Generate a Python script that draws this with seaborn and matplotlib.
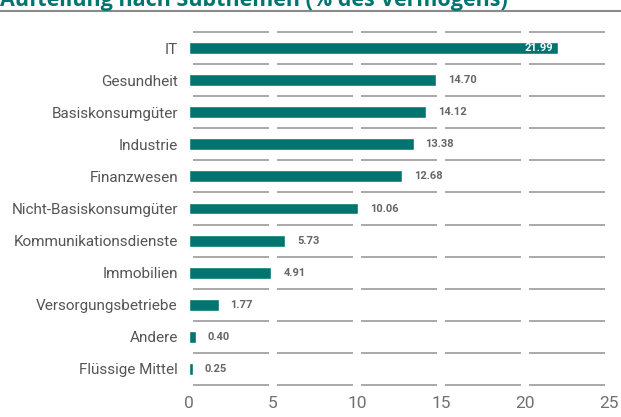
import matplotlib
matplotlib.use("Agg")
import matplotlib.pyplot as plt
from matplotlib.lines import Line2D
import seaborn as sns
import pandas as pd

categories = ["IT", "Gesundheit", "Basiskonsumgüter", "Industrie", "Finanzwesen",
              "Nicht-Basiskonsumgüter", "Kommunikationsdienste", "Immobilien",
              "Versorgungsbetriebe", "Andere", "Flüssige Mittel"]
values = [21.99, 14.70, 14.12, 13.38, 12.68, 10.06, 5.73, 4.91, 1.77, 0.40, 0.25]
xticks = [0, 5, 10, 15, 20, 25]
title = "Aufteilung nach Subthemen (% des Vermögens)"

TEAL = "#007570"
GRID = "#929292"
TXT = "#555555"

sns.set_theme(style="white")
plt.rcParams["font.family"] = ["Roboto", "DejaVu Sans"]

df = pd.DataFrame({"cat": categories, "val": values})

fig = plt.figure(figsize=(6.21, 4.17), dpi=100)
W, H = 621, 417
left, right, top, bottom = 189, 609, 32, 385
ax = fig.add_axes([left / W, 1 - bottom / H, (right - left) / W, (bottom - top) / H])

sns.barplot(data=df, x="val", y="cat", orient="h", color=TEAL, saturation=1,
            width=0.37, ax=ax)

ax.set_xlim(0, 25)
ax.set_ylim(len(categories) - 0.5, -0.5)
ax.set_xlabel("")
ax.set_ylabel("")
for s in ax.spines.values():
    s.set_visible(False)
ax.set_xticks(xticks)
ax.set_xticklabels([str(t) for t in xticks])
ax.tick_params(axis="x", length=0, pad=8, labelsize=12.5, labelcolor="#707070")
ax.tick_params(axis="y", length=0, pad=8, labelsize=11, labelcolor=TXT)

# segmented horizontal gridlines
for i in range(len(categories) + 1):
    y = i - 0.5
    for k in range(5):
        ax.hlines(y, 5 * k + 0.25, 5 * k + 4.75, color=GRID, lw=1.1, clip_on=False)

# value labels
for i, v in enumerate(values):
    if v > 20:
        ax.text(v - 0.3, i, f"{v:.2f}", ha="right", va="center", color="white",
                fontsize=8, fontweight="semibold")
    else:
        ax.text(v + 0.7, i, f"{v:.2f}", ha="left", va="center", color="#666666",
                fontsize=8, fontweight="semibold")

# title (cropped at top, as in the reference) and rule
fig.text(0.0, 1 - 6 / H, title, ha="left", va="baseline", color=TEAL,
         fontsize=15.5, fontweight="bold", family=["Open Sans", "DejaVu Sans"])
fig.add_artist(Line2D([0, 1], [1 - 11 / H, 1 - 11 / H], transform=fig.transFigure,
                      color="#8a8a8a", lw=1.5))

fig.savefig("out.png", dpi=100)
